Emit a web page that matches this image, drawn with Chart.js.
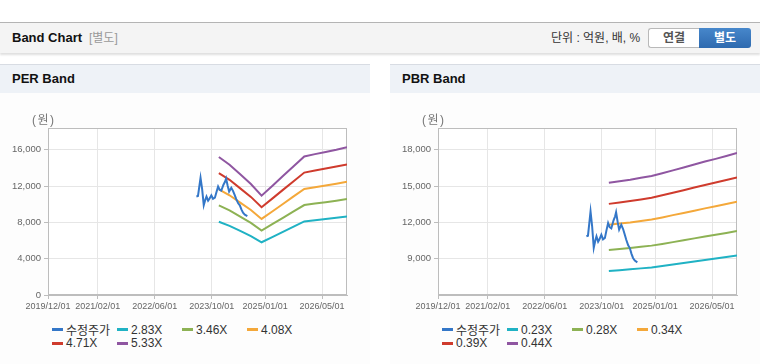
<!DOCTYPE html>
<html><head><meta charset="utf-8">
<script src="https://cdn.jsdelivr.net/npm/chart.js@4/dist/chart.umd.min.js"></script>
<style>
html,body{margin:0;padding:0;background:#fff;width:760px;height:364px;overflow:hidden;font-family:'Liberation Sans',Arial,'Noto Sans CJK KR',sans-serif;}
.hdr{position:absolute;left:0;top:22px;width:760px;height:30px;border-top:1px solid #b4b4b4;background:#f4f4f4;box-shadow:0 2px 2px rgba(0,0,0,0.13);}
.hdr .t{position:absolute;left:12px;top:0;line-height:30px;font-size:13px;font-weight:bold;color:#111;}
.hdr .s{position:absolute;left:89px;top:0;line-height:30px;font-size:12px;color:#999;}
.unit{position:absolute;left:551px;top:23px;line-height:30px;font-size:12px;color:#333;}
.btn1{position:absolute;left:648px;top:28px;width:50px;height:18px;border:1px solid #b9b9b9;border-right:none;border-radius:3px 0 0 3px;background:#fff;color:#555;font-size:12px;font-weight:bold;text-align:center;line-height:18px;}
.btn2{position:absolute;left:699px;top:28px;width:52px;height:20px;border-radius:0 3px 3px 0;background:linear-gradient(#4787cb,#2e6aaf);color:#fff;font-size:12px;font-weight:bold;text-align:center;line-height:20px;}
.panel{position:absolute;top:64px;width:370px;height:300px;border-top:1px solid #d8dce3;background:#fdfdfd;}
.panel .pt{height:28px;background:#eef2f7;line-height:28px;padding-left:12px;font-size:13px;font-weight:bold;color:#111;}
.unitlbl{position:absolute;top:110px;font-size:12px;color:#777;letter-spacing:1.5px;z-index:2;}
canvas{position:absolute;top:100px;}
.leg{position:absolute;top:323px;width:262px;display:flex;flex-wrap:wrap;font-size:12px;color:#333;}
.leg .it{display:flex;align-items:center;width:65px;height:13.5px;white-space:nowrap;}
.leg .mk{display:inline-block;width:11px;height:3px;margin-right:3px;flex:none;}
</style></head>
<body>
<div class="hdr"><span class="t">Band Chart</span><span class="s">[별도]</span></div>
<div class="unit">단위 : 억원, 배, %</div>
<div class="btn1">연결</div><div class="btn2">별도</div>

<div class="panel" style="left:0"><div class="pt">PER Band</div></div>
<div class="panel" style="left:390px"><div class="pt">PBR Band</div></div>
<canvas id="per" width="370" height="215" style="left:0"></canvas>
<canvas id="pbr" width="370" height="215" style="left:390px"></canvas>
<div class="unitlbl" style="left:32px">(원)</div>
<div class="unitlbl" style="left:422px">(원)</div>
<div class="leg" id="legPer" style="left:52px"></div>
<div class="leg" id="legPbr" style="left:442px"></div>

<script>
// ---- axis ----
const xStart = '2019/12/01';
const xEnd = '2026/12/01';
const xTickLabels = ['2019/12/01','2021/02/01','2022/06/01','2023/10/01','2025/01/01','2026/05/01'];
const perYTicks = [0, 4000, 8000, 12000, 16000];
const perYMin = 0, perYMax = 18400;
const pbrYTicks = [9000, 12000, 15000, 18000];
const pbrYMin = 6000, pbrYMax = 19800;

// ---- price (수정주가) ----
const priceDates = ['2023/05/22','2023/06/05','2023/06/16','2023/06/27','2023/07/10','2023/07/24','2023/08/07','2023/08/17','2023/08/31','2023/09/12','2023/09/28','2023/10/12','2023/10/28','2023/11/10','2023/11/25','2023/12/08','2023/12/22','2024/01/10','2024/01/24','2024/02/02','2024/02/16','2024/02/28','2024/03/16','2024/04/01','2024/04/15','2024/04/28','2024/05/14','2024/05/28','2024/06/12','2024/06/25','2024/07/10','2024/08/01'];
const priceValues = [10850,10900,11900,12900,11700,9900,10500,10850,10400,10600,10980,10600,10720,11300,11950,11600,11500,12150,12500,12830,12000,11400,11810,11450,11000,10570,10100,9880,9400,9060,8850,8700];

// ---- band dates ----
const bandDates = ['2023/12/01','2024/03/01','2024/06/01','2024/09/01','2024/12/01','2025/03/01','2025/06/01','2025/09/01','2025/12/01','2026/03/01','2026/06/01','2026/09/01','2026/12/01'];

// ---- PER bands ----
const perLabels = ['2.83X','3.46X','4.08X','4.71X','5.33X'];
const per283 = [8070,7620,7060,6490,5810,6380,6960,7530,8110,8240,8370,8500,8650];
const per346 = [9870,9320,8630,7940,7100,7800,8500,9210,9910,10080,10230,10390,10570];
const per408 = [11640,10990,10180,9360,8380,9200,10030,10860,11690,11880,12060,12260,12470];
const per471 = [13430,12690,11750,10810,9670,10620,11580,12540,13490,13720,13930,14150,14390];
const per533 = [15200,14360,13300,12230,10940,12020,13100,14190,15270,15520,15760,16010,16290];

// ---- PBR bands ----
const pbrLabels = ['0.23X','0.28X','0.34X','0.39X','0.44X'];
const pbr023 = [7980,8050,8120,8200,8280,8400,8520,8650,8770,8900,9020,9140,9270];
const pbr028 = [9720,9800,9880,9980,10080,10220,10370,10530,10680,10840,10980,11130,11280];
const pbr034 = [11800,11900,12000,12120,12240,12410,12600,12780,12970,13160,13330,13520,13700];
const pbr039 = [13530,13650,13770,13900,14040,14240,14450,14660,14880,15090,15290,15500,15720];
const pbr044 = [15270,15400,15530,15690,15840,16060,16300,16540,16790,17030,17250,17490,17730];

const priceLabel = '수정주가';
const colors = ['#3477c8','#20b2c4','#8db254','#f4a83a','#cf3b2d','#8f56a1'];

function toM(s){ const p = s.split('/').map(Number); return (p[0]-2019)*12 + (p[1]-12) + (p[2]-1)/30.4; }
function pts(dates, vals){ return vals.map((v,i)=>({x:toM(dates[i]), y:v})); }

const frame = { id:'frame',
  beforeDraw(c){ const a=c.chartArea, g=c.ctx; g.save(); g.fillStyle='#ffffff'; g.fillRect(a.left,a.top,a.right-a.left,a.bottom-a.top); g.restore(); },
  beforeDatasetsDraw(c){ const a=c.chartArea, g=c.ctx; g.save(); g.strokeStyle='#bdbdbd'; g.lineWidth=1; g.strokeRect(Math.round(a.left)+0.5, Math.round(a.top)+0.5, Math.round(a.right-a.left)-1, Math.round(a.bottom-a.top)-1); g.restore(); } };

const xFont = {family:"'Liberation Sans',Arial,sans-serif", size:9};
const yFont = {family:"'Liberation Sans',Arial,sans-serif", size:9.5};

function makeChart(id, bandLabels, bands, yMin, yMax, yTicks){
  const ds = [{label:priceLabel, data:pts(priceDates, priceValues), borderColor:colors[0]}];
  bands.forEach((b,i)=>ds.push({label:bandLabels[i], data:pts(bandDates,b), borderColor:colors[i+1]}));
  ds.forEach(d=>{ d.borderWidth=2; d.pointRadius=0; d.fill=false; d.tension=0; d.backgroundColor=d.borderColor; });
  return new Chart(document.getElementById(id), {
    type:'line',
    data:{datasets:ds},
    plugins:[frame],
    options:{
      responsive:false, animation:false, devicePixelRatio:1,
      layout:{padding:{top:28,right:23,left:0,bottom:0}},
      plugins:{legend:{display:false}, tooltip:{enabled:false}, title:{display:false}},
      scales:{
        x:{type:'linear', min:toM(xStart), max:toM(xEnd),
          afterBuildTicks:ax=>{ ax.ticks = xTickLabels.map(s=>({value:toM(s)})); },
          afterFit:ax=>{ ax.height = 20; },
          ticks:{callback:(v,i)=>xTickLabels[i], maxRotation:0, minRotation:0, autoSkip:false, padding:2, color:'#666', font:xFont},
          grid:{color:'#e6e6e6', tickLength:4, tickColor:'#bdbdbd'},
          border:{color:'#bdbdbd'}},
        y:{min:yMin, max:yMax,
          afterBuildTicks:ax=>{ ax.ticks = yTicks.map(v=>({value:v})); },
          afterFit:ax=>{ ax.width = 48; },
          ticks:{callback:v=>Number(v).toLocaleString('en-US'), padding:3, color:'#666', font:yFont},
          grid:{color:'#e6e6e6', tickLength:4, tickColor:'#bdbdbd'},
          border:{color:'#bdbdbd'}}
      }
    }
  });
}

makeChart('per', perLabels, [per283,per346,per408,per471,per533], perYMin, perYMax, perYTicks);
makeChart('pbr', pbrLabels, [pbr023,pbr028,pbr034,pbr039,pbr044], pbrYMin, pbrYMax, pbrYTicks);

function legend(id, bandLabels){
  const el = document.getElementById(id);
  const labels = [priceLabel].concat(bandLabels);
  labels.forEach((l,i)=>{
    const it = document.createElement('span'); it.className='it';
    const mk = document.createElement('span'); mk.className='mk'; mk.style.background = colors[i];
    it.appendChild(mk); it.appendChild(document.createTextNode(l));
    el.appendChild(it);
  });
}
legend('legPer', perLabels);
legend('legPbr', pbrLabels);
</script>
</body></html>
